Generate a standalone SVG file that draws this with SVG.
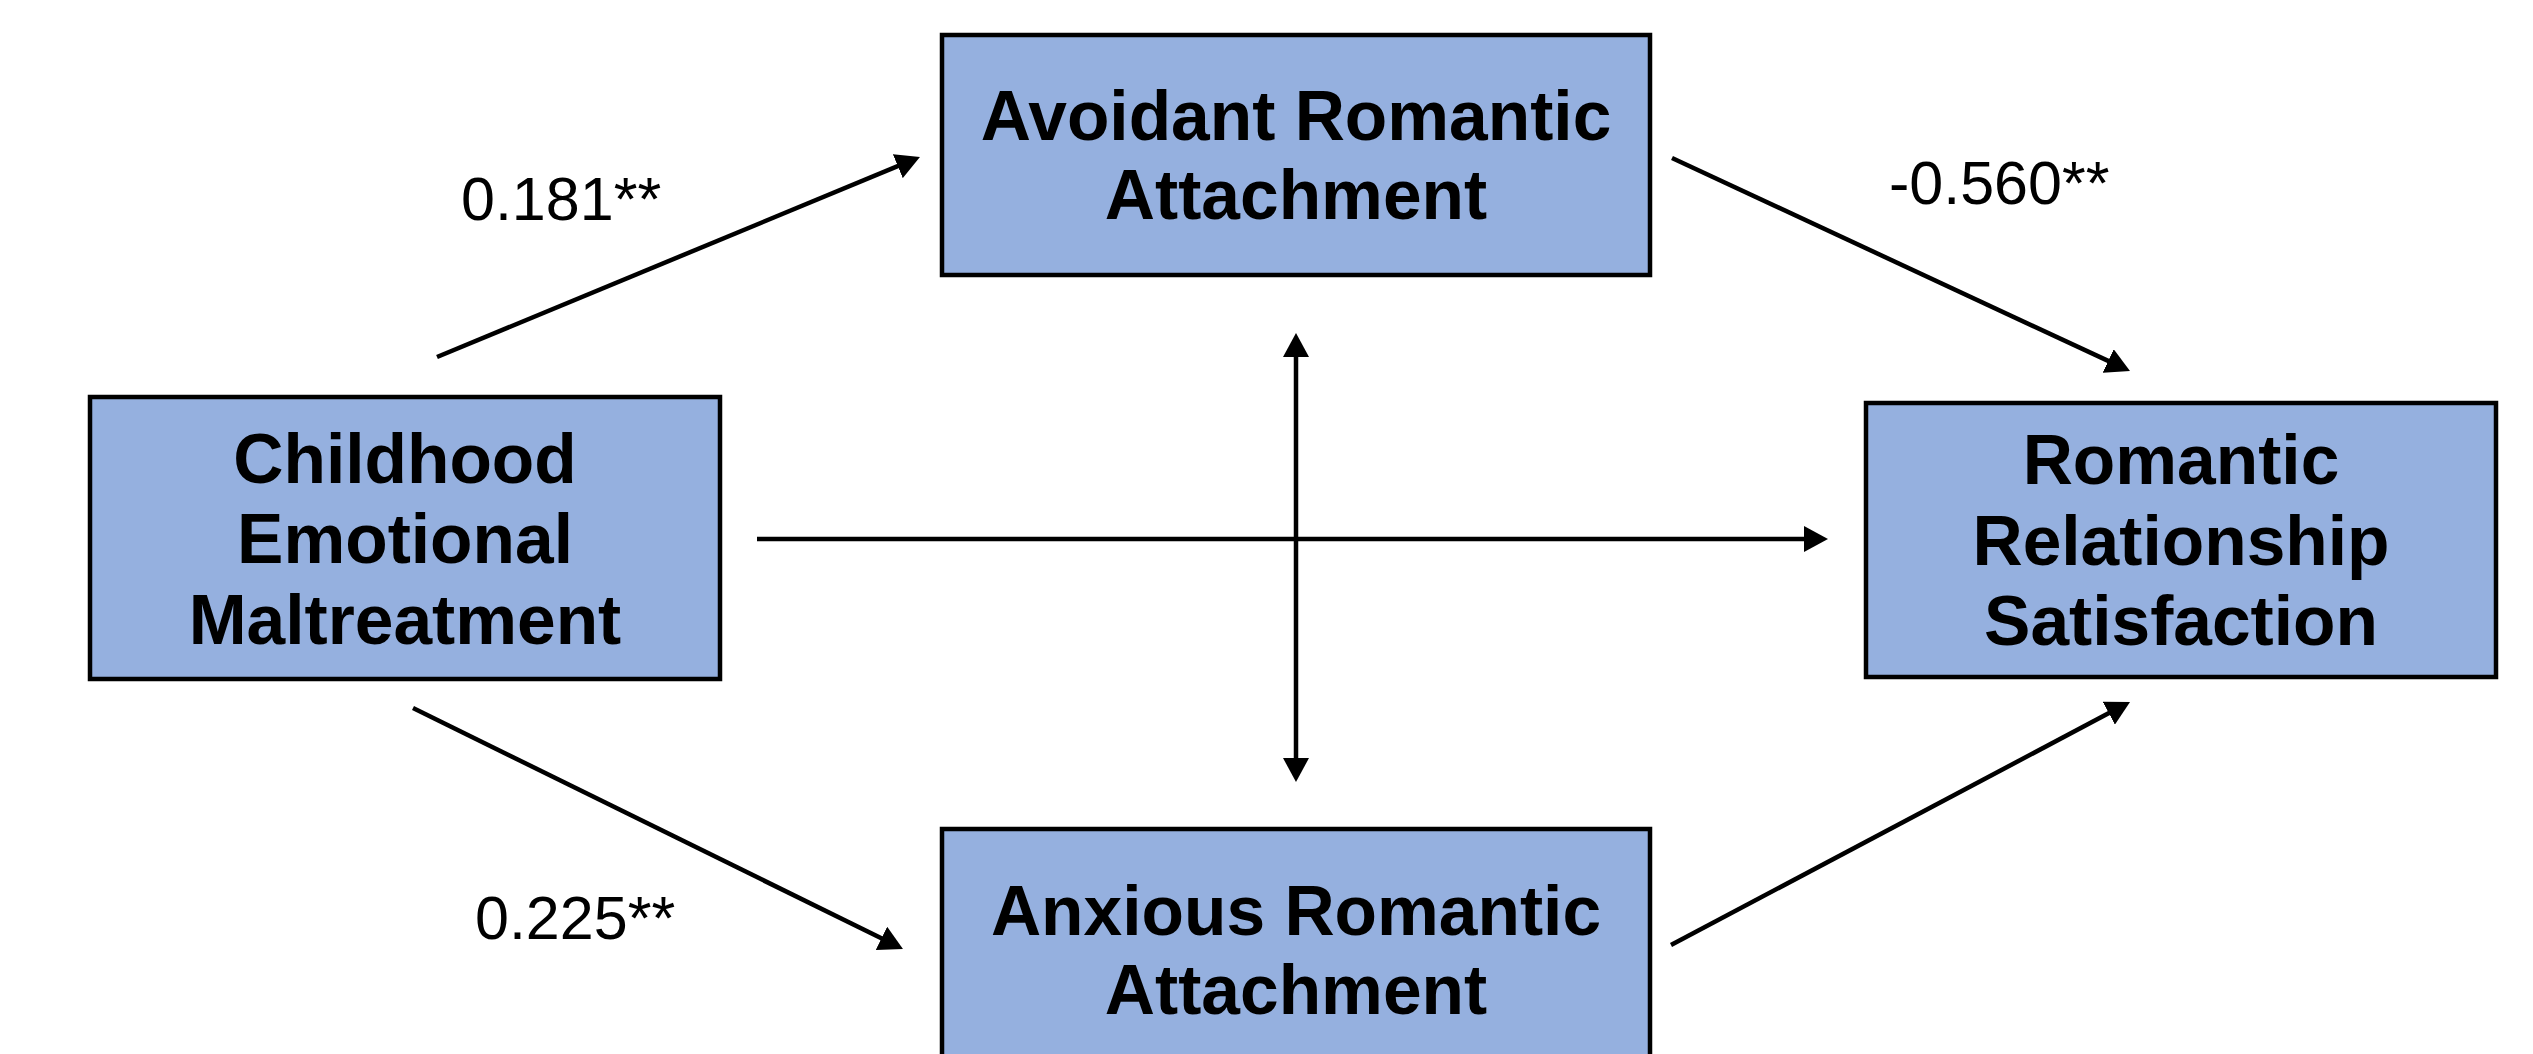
<svg xmlns="http://www.w3.org/2000/svg" width="2533" height="1054" viewBox="0 0 2533 1054">
<style>
.box{fill:#95B0DF;stroke:#000;stroke-width:4.5}
.nt{font-family:"Liberation Sans",Arial,sans-serif;font-weight:bold;font-size:69.5px;text-anchor:middle;fill:#000}
.lb{font-family:"Liberation Sans",Arial,sans-serif;font-size:61px;fill:#000}
.ed{stroke:#000;stroke-width:4.5;fill:none;marker-end:url(#ah)}
</style>
<defs>
<marker id="ah" markerUnits="userSpaceOnUse" markerWidth="26" markerHeight="26" refX="13" refY="13" orient="auto-start-reverse" viewBox="0 0 26 26">
<path d="M0,0 L24,13 L0,26 z" fill="#000"/>
</marker>
</defs>
<rect width="2533" height="1054" fill="#fff"/>
<g id="connectors">
<line class="ed" x1="437" y1="357" x2="909.8" y2="161.2"/>
<line class="ed" x1="1672" y1="158" x2="2120" y2="366.4"/>
<line class="ed" x1="757" y1="539" x2="1817" y2="539"/>
<line class="ed" x1="1296" y1="344" x2="1296" y2="771" style="marker-start:url(#ah)"/>
<line class="ed" x1="413" y1="708" x2="893.1" y2="944.1"/>
<line class="ed" x1="1671" y1="945" x2="2120.3" y2="707.1"/>
</g>
<g id="labels">
<text class="lb" x="461" y="220">0.181**</text>
<text class="lb" x="1889" y="204">-0.560**</text>
<text class="lb" x="475" y="939">0.225**</text>
</g>
<g id="node-cem">
<rect class="box" x="90" y="397" width="630" height="282"/>
<text class="nt" x="405" y="483">Childhood</text>
<text class="nt" x="405" y="563">Emotional</text>
<text class="nt" x="405" y="644">Maltreatment</text>
</g>
<g id="node-avoidant">
<rect class="box" x="942" y="35" width="708" height="240"/>
<text class="nt" x="1296" y="140">Avoidant Romantic</text>
<text class="nt" x="1296" y="219">Attachment</text>
</g>
<g id="node-anxious">
<rect class="box" x="942" y="829" width="708" height="240"/>
<text class="nt" x="1296" y="935">Anxious Romantic</text>
<text class="nt" x="1296" y="1014">Attachment</text>
</g>
<g id="node-satisfaction">
<rect class="box" x="1866" y="403" width="630" height="274"/>
<text class="nt" x="2181" y="484">Romantic</text>
<text class="nt" x="2181" y="565">Relationship</text>
<text class="nt" x="2181" y="645">Satisfaction</text>
</g>
</svg>
